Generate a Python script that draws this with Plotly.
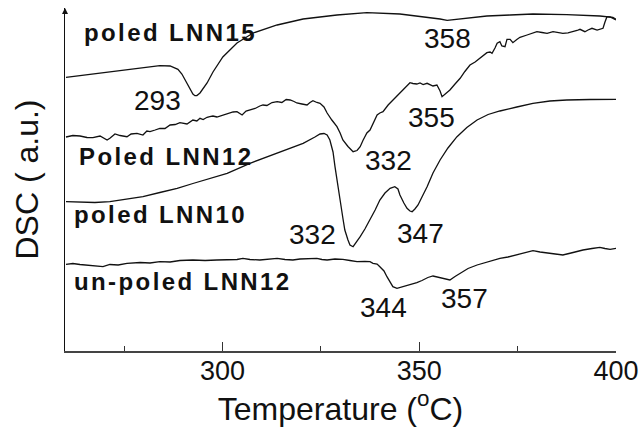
import plotly.graph_objects as go

# ---- data (Temperature in deg C, DSC in a.u.) ----
T_lnn15 = [260.25, 271.4, 279.1, 284.1, 286.7, 288.0, 288.7, 289.7, 290.5, 291.8, 292.5, 293.0, 293.5,
           294.3, 296.1, 297.6, 300.1, 303.7, 307.8, 313.9, 320.5, 329.1, 336.7, 345.1, 351.0, 355.3,
           357.1, 359.1, 362.1, 367.2, 373.1, 378.9, 387.5, 395.9, 399.2, 400.0]
D_lnn15 = [27.37, 27.93, 28.25, 28.53, 28.5, 28.3, 28.17, 27.7, 27.1, 26.1, 25.7, 25.53, 25.55,
           25.8, 26.8, 27.9, 29.4, 30.8, 31.8, 32.6, 33.2, 33.6, 33.83, 33.7, 33.43, 33.2,
           33.07, 33.15, 33.27, 33.5, 33.6, 33.7, 33.63, 33.5, 33.37, 33.17]

T_lnn12p = [260.25, 262.0, 263.8, 265.6, 267.1, 268.9, 270.7, 271.4, 272.7, 274.0, 275.75, 276.8, 278.3,
            279.1, 279.8, 280.8, 281.6, 282.9, 284.1, 285.4, 286.7, 288.0, 289.2, 291.0, 292.5, 293.5,
            294.3, 295.1, 296.1, 296.8, 297.6, 298.6, 300.1, 301.4, 302.7, 303.7, 305.0, 306.0, 307.0,
            308.3, 309.5, 310.3, 311.3, 312.6, 313.9, 315.1, 316.2, 317.2, 318.2, 318.9, 320.2, 321.5,
            322.25, 323.0, 324.0, 324.8, 325.8, 326.6, 327.8, 329.1, 329.9, 330.6, 331.9, 333.2, 334.2,
            335.0, 335.7, 336.7, 337.5, 338.5, 339.3, 340.0, 340.8, 342.1, 343.3, 344.6, 345.9, 346.9,
            347.65, 348.4, 349.4, 350.2, 351.0, 352.0, 352.7, 353.5, 354.5, 355.3, 355.8, 356.8, 357.8,
            359.1, 360.4, 361.6, 362.9, 364.2, 365.4, 366.5, 367.2, 368.0, 368.5, 369.25, 369.8, 370.5,
            371.0, 371.8, 372.3, 373.1, 373.8, 374.8, 375.6, 377.4, 378.65, 379.9, 381.2, 382.5, 384.0,
            385.3, 386.5, 387.8, 389.1, 390.1, 390.85, 392.1, 392.9, 393.9, 395.2, 395.9, 396.7, 397.2,
            397.7, 398.5, 399.2, 400.0]
D_lnn12p = [21.4, 21.55, 21.5, 21.35, 21.33, 21.5, 21.1, 21.27, 21.7, 21.55, 21.43, 21.7, 21.77,
            21.65, 21.6, 22.0, 21.93, 22.1, 22.27, 22.25, 22.6, 22.65, 22.83, 22.7, 23.1, 23.0,
            23.27, 23.15, 23.37, 23.43, 23.5, 23.4, 23.6, 23.7, 23.9, 23.93, 23.6, 24.0, 24.1,
            24.25, 24.5, 24.6, 24.55, 24.85, 24.93, 24.85, 25.15, 25.1, 24.95, 24.8, 24.7, 24.6,
            24.85, 25.03, 24.85, 24.77, 24.4, 23.8, 23.1, 22.43, 21.8, 21.1, 20.45, 19.93, 20.05,
            20.43, 21.05, 21.8, 22.1, 23.0, 23.6, 23.8, 23.93, 24.6, 25.1, 25.6, 26.1, 26.5,
            26.83, 26.75, 26.7, 26.8, 26.65, 26.77, 26.65, 26.5, 26.6, 26.0, 25.43, 25.75, 26.1,
            26.7, 27.27, 27.95, 28.6, 28.9, 29.27, 29.6, 29.83, 29.9, 29.77, 30.3, 30.77, 30.93,
            30.5, 30.43, 31.17, 31.17, 30.83, 31.15, 31.37, 31.6, 31.8, 31.93, 31.85, 31.77, 31.93,
            31.85, 31.77, 31.82, 31.93, 32.05, 32.17, 31.93, 32.1, 32.27, 32.1, 32.2, 32.27, 32.9,
            33.43, 33.4, 33.27, 33.1]

T_lnn10 = [260.25, 263.8, 267.6, 271.4, 275.2, 279.8, 284.1, 288.5, 292.5, 296.8, 301.2, 307.0, 313.9,
           320.5, 323.5, 324.8, 325.8, 326.6, 327.3, 328.1, 328.6, 329.4, 329.9, 330.6, 331.1, 331.9,
           332.4, 333.2, 333.9, 335.0, 336.2, 337.5, 338.8, 340.0, 341.3, 342.6, 343.8, 344.6, 345.1,
           346.1, 346.9, 347.65, 348.2, 348.9, 349.7, 350.7, 352.0, 353.5, 355.3, 357.3, 359.6, 362.1,
           364.7, 367.5, 370.5, 374.8, 378.9, 383.2, 387.5, 393.4, 400.0]
D_lnn10 = [14.93, 14.87, 14.85, 14.93, 15.15, 15.43, 15.85, 16.27, 16.75, 17.27, 17.77, 18.77, 19.77,
           20.77, 21.4, 21.7, 21.75, 21.6, 21.1, 19.9, 18.43, 16.6, 15.1, 13.3, 12.1, 11.1,
           10.6, 10.43, 10.8, 11.43, 12.2, 13.1, 14.1, 15.1, 15.8, 16.27, 16.43, 16.2, 15.6,
           14.8, 14.27, 14.0, 13.93, 14.2, 14.6, 15.4, 16.43, 17.8, 19.1, 20.3, 21.43, 22.35,
           23.1, 23.65, 24.0, 24.4, 24.77, 25.0, 25.1, 25.15, 25.17]

T_lnn12u = [260.25, 262.0, 263.8, 265.6, 267.6, 269.65, 271.4, 273.5, 275.75, 279.1, 281.6, 284.1, 286.7,
            289.2, 292.5, 295.6, 298.6, 301.9, 303.7, 305.2, 307.0, 309.5, 311.6, 313.9, 315.9, 317.9,
            319.7, 321.7, 324.0, 325.3, 326.6, 328.6, 330.6, 332.4, 334.2, 336.2, 337.5, 338.25, 339.3,
            340.0, 341.05, 341.8, 342.6, 343.3, 344.35, 345.6, 346.9, 348.2, 349.4, 350.7, 352.2, 353.5,
            354.8, 356.0, 357.8, 359.1, 360.4, 362.4, 364.7, 367.5, 370.5, 372.55, 374.8, 376.9, 378.9,
            380.7, 382.5, 384.5, 386.5, 389.1, 391.6, 393.9, 395.9, 397.2, 398.5, 400.0]
D_lnn12u = [8.67, 8.75, 8.65, 8.6, 8.55, 8.43, 8.65, 8.6, 8.77, 8.85, 8.8, 8.93, 8.9,
            9.05, 9.1, 9.05, 9.1, 9.1, 9.15, 9.27, 9.15, 9.1, 9.2, 9.27, 9.15, 9.1,
            9.2, 9.25, 9.27, 9.15, 9.1, 9.2, 9.17, 9.05, 8.93, 8.95, 8.93, 8.77, 8.7,
            8.43, 8.0, 7.43, 6.9, 6.43, 6.27, 6.4, 6.5, 6.7, 6.83, 7.05, 7.35, 7.5,
            7.4, 7.27, 7.1, 7.45, 7.77, 8.25, 8.6, 8.95, 9.27, 9.4, 9.6, 9.8, 10.03,
            9.9, 9.83, 9.75, 9.6, 9.85, 10.1, 10.25, 10.37, 10.25, 10.17, 10.27]

x_ticks = [300, 350, 400]
x_minor = [275, 325, 375]

# curve labels: (text, T, DSC)
curve_labels = [("poled LNN15", 264.3, 31.9), ("Poled LNN12", 263.0, 19.5),
                ("poled LNN10", 261.8, 13.7), ("un-poled LNN12", 261.8, 7.0)]
peak_labels = [("293", 283.4, 25.1), ("358", 357.3, 31.3), ("332", 342.1, 19.1), ("355", 353.2, 23.4),
               ("332", 322.8, 11.7), ("347", 350.4, 11.8), ("344", 340.8, 4.4), ("357", 361.4, 5.3)]

FONT = "Liberation Sans, Arial, sans-serif"
LINE = dict(color="#111111", width=1.3)

fig = go.Figure()
for name, xs, ys in [("poled LNN15", T_lnn15, D_lnn15), ("Poled LNN12", T_lnn12p, D_lnn12p),
                     ("poled LNN10", T_lnn10, D_lnn10), ("un-poled LNN12", T_lnn12u, D_lnn12u)]:
    fig.add_trace(go.Scatter(x=xs, y=ys, mode="lines", line=LINE, name=name, showlegend=False))

for txt, x, y in curve_labels:
    fig.add_annotation(x=x, y=y, xref="x", yref="y", showarrow=False, xanchor="left", yanchor="middle",
                       text='<span style="letter-spacing:2.4px">' + txt + '</span>',
                       font=dict(family=FONT, size=24, color="#111111", weight="bold"))
for txt, x, y in peak_labels:
    fig.add_annotation(x=x, y=y, xref="x", yref="y", showarrow=False, xanchor="center", yanchor="middle",
                       text=txt, font=dict(family=FONT, size=28, color="#111111"))

# arrow at top of the DSC axis
fig.add_annotation(x=260, y=34.3, xref="x", yref="y", ax=0, ay=14, axref="pixel", ayref="pixel",
                   showarrow=True, arrowhead=2, arrowsize=1, arrowwidth=1.2, arrowcolor="#111111", text=" ")

fig.update_layout(
    width=644, height=434,
    margin=dict(l=65, r=28, t=8, b=83, autoexpand=False),
    paper_bgcolor="white", plot_bgcolor="white",
    font=dict(family=FONT, color="#111111"),
    xaxis=dict(range=[260, 400], tickvals=x_ticks, ticks="inside", ticklen=9, tickwidth=1.2,
               tickcolor="#333333", showline=True, linecolor="#444444", linewidth=1.5, automargin=False,
               showgrid=False, zeroline=False, tickfont=dict(size=27, family=FONT, color="#111111"),
               ticklabelstandoff=-5,
               minor=dict(tickvals=x_minor, ticks="inside", ticklen=5, tickwidth=1.2, tickcolor="#333333"),
               title=dict(text="Temperature (<sup>o</sup>C)", font=dict(size=32, family=FONT, color="#111111"),
                          standoff=8)),
    yaxis=dict(range=[0, 34.3], showticklabels=False, ticks="", showline=True, linecolor="#111111",
               linewidth=1.3, showgrid=False, zeroline=False, automargin=False,
               title=dict(text="DSC ( a.u.)", font=dict(size=32, family=FONT, color="#111111"), standoff=15)),
)

fig.write_html("out.html", config={"displayModeBar": False},
               post_script="document.body.style.margin='0';document.body.style.overflow='hidden';")
